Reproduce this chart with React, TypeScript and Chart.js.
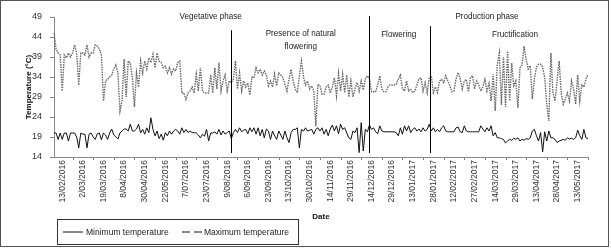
import React, { useEffect, useRef } from 'react';
import { Chart, registerables } from 'chart.js';

Chart.register(...registerables);

// Dates shown on the x axis (one every RECORDS_PER_TICK records)
const tickLabels = [
  '13/02/2016', '2/03/2016', '19/03/2016', '8/04/2016', '30/04/2016', '22/05/2016',
  '7/07/2016', '23/07/2016', '9/08/2016', '6/09/2016', '23/09/2016', '13/10/2016',
  '30/10/2016', '14/11/2016', '29/11/2016', '14/12/2016', '29/12/2016', '13/01/2017',
  '28/01/2017', '12/02/2017', '27/02/2017', '14/03/2017', '29/03/2017', '13/04/2017',
  '28/04/2017', '13/05/2017',
];
const FIRST_TICK_INDEX = 4;
const RECORDS_PER_TICK = 10;

const maxTemp = [
  45, 41, 40, 39.5, 30.5, 39.5, 38.8, 40, 39, 40,
  42, 40, 32, 40, 40, 39.5, 42, 39, 40, 40,
  42, 41.7, 41, 39.5, 28, 33, 33.5, 34, 34.5, 36,
  37, 35, 25.5, 28, 38.5, 29, 38, 37.5, 34, 26.5,
  35, 31.5, 38, 35, 38, 36, 38.8, 37.6, 39.7, 36.3,
  40, 38, 37.6, 36.3, 36.7, 35, 36.3, 34.7, 36, 35.5,
  37.6, 38, 30, 30, 28.4, 30, 30.5, 31.5, 30, 34.7,
  30.5, 36.3, 30.5, 30, 30, 30, 34.5, 30, 36.3, 31,
  37.6, 30.5, 33, 34.5, 30.5, 33, 32.6, 33.5, 38, 31,
  35, 30.5, 33, 31.5, 32.5, 29.5, 34, 33.8, 36.3, 35,
  35.9, 34.5, 35.5, 34.5, 31.8, 33, 31.5, 34.7, 31.8, 35,
  34.5, 33.8, 32.2, 30.5, 33.5, 35.9, 33, 31, 30.1, 34.3,
  38, 34, 32, 33, 31, 31.8, 30.5, 21.7, 32.2, 31.8,
  29.7, 29.7, 31.5, 32, 30, 31.5, 33.8, 29.3, 35, 30.5,
  34.7, 30.1, 34.5, 29, 33, 29, 31, 32.6, 30.5, 33,
  30.8, 33.5, 34.3, 33.5, 30.3, 30.3, 30.3, 32, 34.3, 31,
  30.3, 30.3, 31.5, 32, 32, 32, 32.2, 33.5, 34.5, 31,
  30.5, 33, 30.5, 30.9, 30.1, 30.5, 32, 33.5, 33.8, 30.5,
  32.6, 30.1, 33.8, 34.3, 30.1, 31.5, 30.1, 33, 33.4, 32.6,
  34.3, 33, 31.8, 30.3, 30.5, 33.5, 35.1, 33.6, 31, 33,
  33.4, 30.3, 33.8, 34.3, 31, 33, 32, 30.5, 31.5, 33.4,
  30.5, 32.4, 28, 34.7, 25.5, 37, 40, 27, 39, 26.5,
  40.5, 28, 37.5, 31.8, 33, 26.3, 36.3, 37, 41.7, 38.4,
  36, 36.8, 28.5, 33.5, 36.5, 37.2, 37.2, 36.5, 33.8, 27.2,
  23, 40, 30, 28, 33, 38, 30, 27.2, 28.5, 30,
  28, 33, 31, 27.2, 34.5, 28, 32, 31.5, 33.4, 34.7,
];

const minTemp = [
  20, 20, 18.4, 20, 18.4, 20, 20, 18, 20, 20,
  20, 19, 16.3, 20, 19.7, 19.7, 16.3, 19.7, 20, 19,
  18.4, 19.8, 20, 18.3, 20, 19.5, 18.4, 20, 21, 19.5,
  19, 18.5, 20, 20.5, 21, 21, 20.5, 22.2, 20.5, 20.5,
  21, 22.2, 20, 20.9, 19.7, 21.3, 20.1, 23.8, 20.9, 19.3,
  20.5, 18.6, 19.7, 18.2, 20.1, 19.3, 20.5, 19.7, 20.5, 20.9,
  20.5, 19.7, 21.3, 20.1, 20.9, 20.1, 20.5, 20.1, 20.1, 20,
  19.5, 18.8, 19.7, 19.2, 20.9, 18, 20, 20, 20.3, 19.7,
  20.9, 19.5, 20.5, 19.7, 20.1, 20.5, 18.6, 20.1, 20.9, 20.1,
  21.3, 20.3, 20.7, 20.9, 19.8, 21.3, 20.3, 21.3, 19.7, 21.3,
  19.3, 20.9, 18.8, 21, 20.5, 18.4, 20.5, 19.3, 18.4, 20.5,
  19.5, 18.4, 20.5, 18.8, 17.6, 20.1, 20.9, 20.9, 21.3, 16.3,
  20.9, 20.5, 21.3, 20.5, 20.7, 20.9, 19.7, 20.9, 21.3, 20.5,
  21.3, 19.7, 20.9, 19.3, 21, 22, 20.5, 21.8, 19.8, 22.2,
  20.9, 21.3, 20, 18.8, 18.4, 20.5, 20.1, 21.3, 15.1, 22.6,
  15.5, 20.9, 20.3, 22, 20.9, 21.3, 20.3, 19.8, 21.8, 20.5,
  20.3, 20.3, 20.3, 20.3, 20.3, 20.3, 20.1, 19.3, 21.3, 19.7,
  21.8, 20.5, 21.8, 20.1, 20.9, 21.3, 20.5, 21, 20.3, 21.3,
  20.5, 20.9, 22.2, 20.5, 21.3, 20.3, 20.9, 20.3, 21.3, 21.8,
  20.5, 20.3, 20.3, 20.3, 20.3, 21.3, 21.5, 20.3, 20.1, 21.8,
  20.5, 20.3, 20.3, 20.3, 20.3, 20.3, 20.3, 21.8, 21, 20.3,
  21.3, 20.5, 21.8, 19.3, 20.1, 18.8, 18.8, 18.6, 18.4, 17.5,
  18, 18.4, 18.2, 18.7, 18.4, 18.8, 18, 18.4, 18.2, 18.6,
  18.4, 18.8, 20.5, 20.9, 19.3, 18, 20.1, 15.3, 20.3, 18,
  20.5, 18.8, 18.8, 18.4, 17.6, 18, 18.2, 18.4, 18.2, 18.8,
  18.5, 18.7, 18.4, 18.8, 20.7, 19.3, 18.4, 20.9, 18.8, 18.6,
];

const Y_MIN = 14;
const Y_MAX = 49;
const Y_STEP = 5;

// Phase boundaries (record index) and the temperature where each line starts
const phaseBoundaries = [86, 153, 182.5];
const phaseLineTops = [45.7, 49.2, 46.7];
const PHASE_LINE_BOTTOM = 15;

const phaseTexts = [
  { text: 'Vegetative phase', index: 76, value: 49.2 },
  { text: 'Presence of natural', index: 119.7, value: 44.9 },
  { text: 'flowering', index: 119.7, value: 41.7 },
  { text: 'Flowering', index: 167.2, value: 44.7 },
  { text: 'Production phase', index: 210, value: 49.2 },
  { text: 'Fructification', index: 223.6, value: 44.7 },
];

const categories = minTemp.map((_, i) => {
  const k = i - FIRST_TICK_INDEX;
  if (k >= 0 && k % RECORDS_PER_TICK === 0) {
    const t = k / RECORDS_PER_TICK;
    if (t < tickLabels.length) return tickLabels[t];
  }
  return '';
});

// tick marks sit between the labelled categories
const tickMarkIndices: number[] = [];
for (let i = FIRST_TICK_INDEX + RECORDS_PER_TICK / 2; i < minTemp.length; i += RECORDS_PER_TICK) {
  tickMarkIndices.push(i);
}

const FONT = '"Liberation Sans", Arial, sans-serif';

const phasePlugin = {
  id: 'phases',
  afterDatasetsDraw(chart: any) {
    const { ctx } = chart;
    const x = chart.scales.x;
    const y = chart.scales.y;
    ctx.save();
    // x-axis tick marks between categories
    ctx.strokeStyle = '#888';
    ctx.lineWidth = 1;
    tickMarkIndices.forEach((idx) => {
      const px = Math.round(x.getPixelForValue(idx)) + 0.5;
      ctx.beginPath();
      ctx.moveTo(px, x.top);
      ctx.lineTo(px, x.top + 3);
      ctx.stroke();
    });
    // phase boundaries
    ctx.strokeStyle = '#000';
    phaseBoundaries.forEach((b, i) => {
      const px = Math.round(x.getPixelForValue(b)) + 0.5;
      ctx.beginPath();
      ctx.moveTo(px, y.getPixelForValue(phaseLineTops[i]));
      ctx.lineTo(px, y.getPixelForValue(PHASE_LINE_BOTTOM));
      ctx.stroke();
    });
    ctx.fillStyle = '#222';
    ctx.font = '9px ' + FONT;
    ctx.textAlign = 'center';
    ctx.textBaseline = 'middle';
    phaseTexts.forEach((t) => {
      const px = x.getPixelForValue(t.index);
      const py = y.getPixelForValue(t.value);
      ctx.save();
      ctx.translate(px, py);
      ctx.scale(0.9, 1);
      ctx.fillText(t.text, 0, 0);
      ctx.restore();
    });
    ctx.restore();
  },
};

function TempChart() {
  const ref = useRef<HTMLCanvasElement | null>(null);
  useEffect(() => {
    if (!ref.current) return;
    const chart = new Chart(ref.current, {
      type: 'line',
      data: {
        labels: categories,
        datasets: [
          {
            label: 'Maximum temperature',
            data: maxTemp,
            borderColor: '#6a6a6a',
            borderWidth: 1.4,
            borderDash: [1.5, 1],
            pointRadius: 0,
            tension: 0,
          },
          {
            label: 'Minimum temperature',
            data: minTemp,
            borderColor: '#111',
            borderWidth: 1,
            pointRadius: 0,
            tension: 0,
          },
        ],
      },
      options: {
        animation: false,
        responsive: false,
        maintainAspectRatio: false,
        events: [],
        layout: { padding: { top: 17, right: 23, left: 0, bottom: 0 } },
        plugins: { legend: { display: false }, tooltip: { enabled: false } },
        scales: {
          x: {
            type: 'category',
            offset: false,
            afterFit: (scale: any) => { scale.height = 65; },
            grid: { display: false, drawTicks: false },
            border: { display: true, color: '#888' },
            ticks: {
              autoSkip: false,
              maxRotation: 90,
              minRotation: 90,
              padding: 3,
              color: '#333',
              font: { size: 8.5, family: FONT },
              callback: function (this: any, value: any) {
                const l = this.getLabelForValue(value);
                return l === '' ? null : l;
              },
            },
            title: {
              display: true,
              text: 'Date',
              color: '#111',
              font: { size: 8, weight: 'bold', family: FONT },
              padding: { top: 2.2, bottom: 0 },
            },
          },
          y: {
            min: Y_MIN,
            max: Y_MAX,
            afterFit: (scale: any) => { scale.width = 54; },
            grid: { display: true, drawOnChartArea: false, tickLength: 4, color: '#888' },
            border: { display: true, color: '#888' },
            ticks: {
              stepSize: Y_STEP,
              padding: 8,
              color: '#333',
              font: { size: 9, family: FONT },
            },
            title: {
              display: true,
              text: 'Temperature (°C)',
              color: '#111',
              font: { size: 8, weight: 'bold', family: FONT },
              padding: { top: 23.7, bottom: 0 },
            },
          },
        },
      },
      plugins: [phasePlugin],
    } as any);
    return () => chart.destroy();
  }, []);
  return <canvas ref={ref} width={611} height={222} style={{ position: 'absolute', left: 0, top: 0 }} />;
}

export default function App() {
  return (
    <div style={{ position: 'absolute', left: 0, top: 0, width: 611, height: 249, background: '#fff' }}>
      <TempChart />
      <div
        style={{
          position: 'absolute', left: 0, top: 0, width: 609, height: 247,
          boxSizing: 'border-box', border: '1px solid #555', pointerEvents: 'none',
        }}
      />
      <div
        style={{
          position: 'absolute', left: 57, top: 219, width: 242, height: 26,
          boxSizing: 'border-box', border: '1px solid #333',
          font: '8.5px ' + FONT, color: '#222', lineHeight: '10px',
        }}
      >
        <svg style={{ position: 'absolute', left: 5, top: 11 }} width={20} height={2}>
          <line x1={0} y1={1} x2={20} y2={1} stroke="#111" strokeWidth={1} />
        </svg>
        <span style={{ position: 'absolute', left: 28, top: 7, whiteSpace: 'nowrap' }}>Minimum temperature</span>
        <svg style={{ position: 'absolute', left: 124, top: 11 }} width={20} height={2}>
          <line x1={0} y1={1} x2={20} y2={1} stroke="#111" strokeWidth={1} strokeDasharray="8 4" />
        </svg>
        <span style={{ position: 'absolute', left: 146, top: 7, whiteSpace: 'nowrap' }}>Maximum temperature</span>
      </div>
    </div>
  );
}
